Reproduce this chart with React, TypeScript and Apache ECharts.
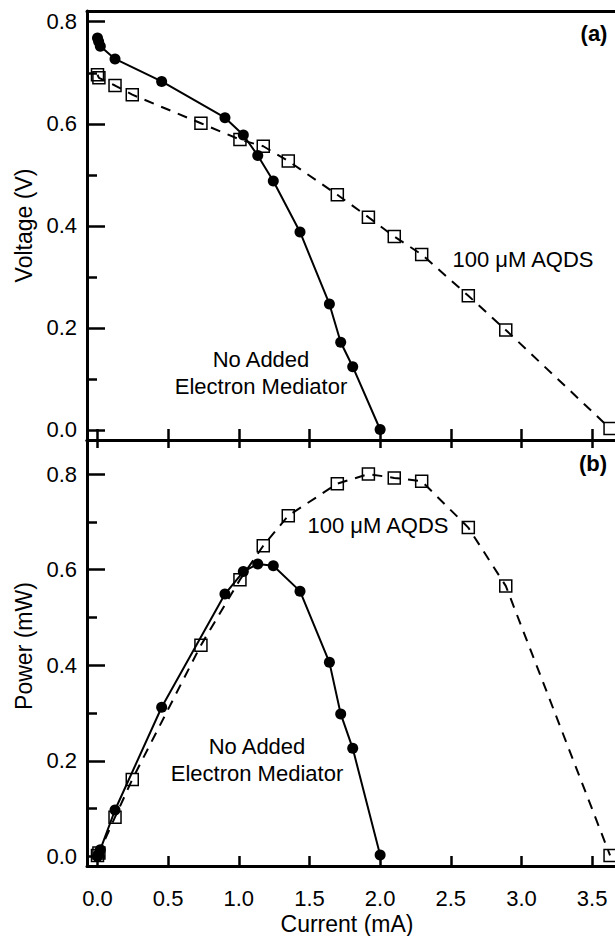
import React, { useEffect, useRef } from "react";
import * as echarts from "echarts";

const currentNone = [0.0, 0.008, 0.02, 0.124, 0.454, 0.902, 1.032, 1.134, 1.244, 1.433, 1.641, 1.721, 1.806, 2.0];
const voltageNone = [0.768, 0.761, 0.752, 0.727, 0.683, 0.612, 0.578, 0.538, 0.488, 0.388, 0.247, 0.172, 0.124, 0.001];
const powerNone = [0.0, 0.005, 0.014, 0.097, 0.312, 0.549, 0.596, 0.612, 0.608, 0.555, 0.406, 0.298, 0.226, 0.003];

const currentAqds = [0.0, 0.01, 0.124, 0.246, 0.732, 1.008, 1.173, 1.35, 1.697, 1.917, 2.1, 2.294, 2.624, 2.889, 3.627];
const voltageAqds = [0.696, 0.69, 0.675, 0.657, 0.601, 0.569, 0.556, 0.527, 0.461, 0.417, 0.379, 0.344, 0.263, 0.196, 0.003];
const powerAqds = [0.002, 0.007, 0.082, 0.161, 0.442, 0.579, 0.65, 0.713, 0.78, 0.8, 0.792, 0.785, 0.688, 0.566, 0.002];

const xTicks = [0, 0.5, 1.0, 1.5, 2.0, 2.5, 3.0, 3.5];
const yMajorTicks = [0, 0.2, 0.4, 0.6, 0.8];
const yMinorTicks = [0.1, 0.3, 0.5, 0.7];

const FONT = "Liberation Sans";
const X_MIN = -0.0743;
const X_MAX = 3.662;

export default function App() {
  const ref = useRef<HTMLDivElement>(null);
  useEffect(() => {
    const chart = echarts.init(ref.current!, null, { renderer: "svg" });
    const axisLine = { show: true, onZero: false, lineStyle: { color: "#000", width: 3 } };
    const noLine = { show: false, onZero: false };
    const tickStyle = { color: "#000", width: 2.5 };
    const xAxisBase = (gridIndex: number) => ({
      type: "value",
      gridIndex,
      min: X_MIN,
      max: X_MAX,
      splitLine: { show: false },
    });
    const fmt = (v: number) => v.toFixed(1);
    const labelStyle = { color: "#000", fontFamily: FONT, fontSize: 22 };
    const nameStyle = { color: "#000", fontFamily: FONT, fontSize: 23 };
    const option: any = {
      animation: false,
      backgroundColor: "#fff",
      grid: [
        { left: 87, top: 11, right: 0, height: 429 },
        { left: 87, top: 440, right: 0, height: 429 },
      ],
      xAxis: [
        {
          ...xAxisBase(0),
          position: "bottom",
          axisLine,
          axisTick: { show: true, inside: true, length: 11, customValues: xTicks, lineStyle: tickStyle },
          axisLabel: { show: false },
        },
        {
          ...xAxisBase(0),
          position: "top",
          axisLine,
          axisTick: { show: false },
          axisLabel: { show: false },
        },
        {
          ...xAxisBase(1),
          position: "bottom",
          axisLine,
          axisTick: { show: true, inside: true, length: 10, customValues: xTicks, lineStyle: tickStyle },
          axisLabel: { show: true, customValues: xTicks, formatter: fmt, ...labelStyle, margin: 21 },
          name: "Current (mA)",
          nameLocation: "middle",
          nameGap: 46,
          nameTextStyle: { ...nameStyle, padding: [0, 0, 0, -8] },
        },
        {
          ...xAxisBase(1),
          position: "top",
          axisLine,
          axisTick: { show: true, inside: true, length: 8, customValues: xTicks, lineStyle: tickStyle },
          axisLabel: { show: false },
        },
      ],
      yAxis: [
        {
          type: "value",
          gridIndex: 0,
          min: -0.0196,
          max: 0.821,
          position: "left",
          splitLine: { show: false },
          axisLine,
          axisTick: { show: true, inside: true, length: 18, customValues: yMajorTicks, lineStyle: tickStyle },
          axisLabel: { show: true, customValues: yMajorTicks, formatter: fmt, ...labelStyle, margin: 10 },
          name: "Voltage (V)",
          nameLocation: "middle",
          nameGap: 51,
          nameTextStyle: { ...nameStyle },
        },
        {
          type: "value",
          gridIndex: 0,
          min: -0.0196,
          max: 0.821,
          position: "left",
          splitLine: { show: false },
          axisLine: noLine,
          axisTick: { show: true, inside: true, length: 10, customValues: yMinorTicks, lineStyle: tickStyle },
          axisLabel: { show: false },
        },
        {
          type: "value",
          gridIndex: 1,
          min: -0.0202,
          max: 0.8713,
          position: "left",
          splitLine: { show: false },
          axisLine,
          axisTick: { show: true, inside: true, length: 18, customValues: yMajorTicks, lineStyle: tickStyle },
          axisLabel: { show: true, customValues: yMajorTicks, formatter: fmt, ...labelStyle, margin: 10 },
          name: "Power (mW)",
          nameLocation: "middle",
          nameGap: 51,
          nameTextStyle: { ...nameStyle, padding: [0, 0, 0, 14] },
        },
        {
          type: "value",
          gridIndex: 1,
          min: -0.0202,
          max: 0.8713,
          position: "left",
          splitLine: { show: false },
          axisLine: noLine,
          axisTick: { show: true, inside: true, length: 10, customValues: yMinorTicks, lineStyle: tickStyle },
          axisLabel: { show: false },
        },
      ],
      series: [
        {
          name: "No Added Electron Mediator (V)",
          type: "line",
          xAxisIndex: 0,
          yAxisIndex: 0,
          data: currentNone.map((x, i) => [x, voltageNone[i]]),
          symbol: "circle",
          symbolSize: 11,
          clip: false,
          itemStyle: { color: "#000" },
          lineStyle: { color: "#000", width: 2 },
        },
        {
          name: "100 μM AQDS (V)",
          type: "line",
          xAxisIndex: 0,
          yAxisIndex: 0,
          data: currentAqds.map((x, i) => [x, voltageAqds[i]]),
          symbol: "rect",
          symbolSize: 12,
          clip: false,
          itemStyle: { color: "rgba(255,255,255,0)", borderColor: "#000", borderWidth: 1.5 },
          lineStyle: { color: "#000", width: 2, type: [10, 8] },
        },
        {
          name: "No Added Electron Mediator (mW)",
          type: "line",
          xAxisIndex: 2,
          yAxisIndex: 2,
          data: currentNone.map((x, i) => [x, powerNone[i]]),
          symbol: "circle",
          symbolSize: 11,
          clip: false,
          itemStyle: { color: "#000" },
          lineStyle: { color: "#000", width: 2 },
        },
        {
          name: "100 μM AQDS (mW)",
          type: "line",
          xAxisIndex: 2,
          yAxisIndex: 2,
          data: currentAqds.map((x, i) => [x, powerAqds[i]]),
          symbol: "rect",
          symbolSize: 12,
          clip: false,
          itemStyle: { color: "rgba(255,255,255,0)", borderColor: "#000", borderWidth: 1.5 },
          lineStyle: { color: "#000", width: 2, type: [10, 8] },
        },
      ],
      graphic: [
        { type: "text", x: 594, y: 33, style: { text: "(a)", fontFamily: FONT, fontSize: 22, fontWeight: "bold", fill: "#000", align: "center", verticalAlign: "middle" } },
        { type: "text", x: 593, y: 463, style: { text: "(b)", fontFamily: FONT, fontSize: 22, fontWeight: "bold", fill: "#000", align: "center", verticalAlign: "middle" } },
        { type: "text", x: 523, y: 259, style: { text: "100 μM AQDS", fontFamily: FONT, fontSize: 22, fill: "#000", align: "center", verticalAlign: "middle" } },
        { type: "text", x: 378, y: 525, style: { text: "100 μM AQDS", fontFamily: FONT, fontSize: 22, fill: "#000", align: "center", verticalAlign: "middle" } },
        { type: "text", x: 261, y: 373, style: { text: "No Added\nElectron Mediator", fontFamily: FONT, fontSize: 22, lineHeight: 27, fill: "#000", align: "center", verticalAlign: "middle" } },
        { type: "text", x: 257, y: 760, style: { text: "No Added\nElectron Mediator", fontFamily: FONT, fontSize: 22, lineHeight: 27, fill: "#000", align: "center", verticalAlign: "middle" } },
      ],
    };
    chart.setOption(option);
    return () => chart.dispose();
  }, []);
  return <div ref={ref} style={{ position: "fixed", left: 0, top: 0, width: 615, height: 936, background: "#fff" }} />;
}
